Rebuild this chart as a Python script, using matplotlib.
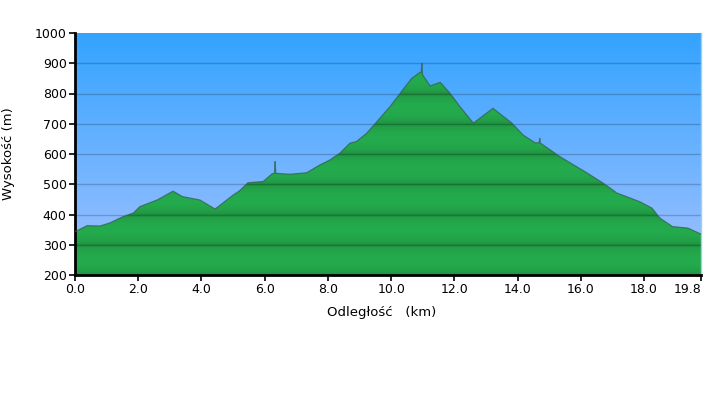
import numpy as np
import matplotlib
matplotlib.use("Agg")
import matplotlib.pyplot as plt


##############################################################################
# Data

DIST_KM = [0.0, 0.38, 0.79, 1.1, 1.52, 1.85, 2.05, 2.6, 3.1, 3.4, 3.95, 4.43,
           5.0, 5.2, 5.47, 5.95, 6.23, 6.31, 6.33, 6.35, 6.8, 7.33, 7.75,
           8.06, 8.38, 8.7, 8.9, 9.23, 9.55, 9.96, 10.37, 10.65, 10.9, 10.95,
           10.97, 10.99, 11.0, 11.23, 11.55, 11.86, 12.18, 12.6, 13.22, 13.82,
           14.17, 14.55, 14.68, 14.7, 14.72, 15.34, 16.2, 16.7, 17.14, 17.87,
           18.25, 18.5, 18.9, 19.39, 19.8]
ELEV_M = [343, 363, 362, 372, 393, 405, 426, 448, 477, 459, 448, 418,
          464, 478, 505, 509, 534, 537, 575, 536, 533, 538, 564,
          580, 603, 636, 641, 669, 707, 756, 812, 850, 869, 870,
          900, 866, 861, 825, 837, 801, 756, 702, 751, 702,
          663, 637, 637, 652, 636, 591, 537, 504, 471, 442,
          421, 388, 360, 355, 335]

X_TICKS = [0, 2, 4, 6, 8, 10, 12, 14, 16, 18, 19.8]
X_LABELS = ["0.0", "2.0", "4.0", "6.0", "8.0", "10.0", "12.0", "14.0",
            "16.0", "18.0", "19.8"]
Y_TICKS = [200, 300, 400, 500, 600, 700, 800, 900, 1000]

Y_MIN, Y_MAX = 200, 1000
X_MAX = 19.8


##############################################################################
# Figure

fig = plt.figure(figsize=(7.09, 4.0), dpi=100)
ax = fig.add_axes([75 / 709, 125 / 400, 626 / 709, 242 / 400])

# sky gradient
n = 400
lev = np.linspace(Y_MIN, Y_MAX, n)
f = (lev - Y_MIN) / (Y_MAX - Y_MIN)
top = np.array([0.20, 0.64, 1.00])
bot = np.array([0.64, 0.76, 1.00])
sky = bot[None, :] * (1 - f[:, None]) + top[None, :] * f[:, None]
sky = np.repeat(sky[:, None, :], 2, axis=1)
ax.imshow(sky, extent=[0, X_MAX, Y_MIN, Y_MAX], origin="lower",
          aspect="auto", zorder=0)

# green banded fill (softer bands)
t = ((lev - Y_MIN) % 100) / 100.0
shade = np.sin(np.pi * t) ** 0.4
dark = np.array([0.12, 0.53, 0.24])
light = np.array([0.14, 0.67, 0.30])
green = dark[None, :] * (1 - shade[:, None]) + light[None, :] * shade[:, None]
green = np.repeat(green[:, None, :], 2, axis=1)
poly = ax.fill_between(DIST_KM, ELEV_M, Y_MIN, color="none", lw=0)
img = ax.imshow(green, extent=[0, X_MAX, Y_MIN, Y_MAX], origin="lower",
                aspect="auto", zorder=1)
img.set_clip_path(poly.get_paths()[0], transform=ax.transData)

# grid lines over both
for yv in Y_TICKS[1:-1]:
    ax.axhline(yv, color="black", alpha=0.2, lw=1, zorder=2)

ax.plot(DIST_KM, ELEV_M, color="#36604f", lw=0.9, alpha=0.75, zorder=3)

ax.set_xlim(0, X_MAX)
ax.set_ylim(Y_MIN, Y_MAX)
ax.set_xticks(X_TICKS)
ax.set_xticklabels(X_LABELS)
ax.get_xticklabels()[-1].set_horizontalalignment("right")
ax.set_yticks(Y_TICKS)
ax.tick_params(direction="out", length=4, width=1.2, labelsize=9,
               color="black", pad=2)

ax.spines["top"].set_visible(False)
ax.spines["right"].set_color("#9fd0e8")
ax.spines["right"].set_linewidth(1)
ax.spines["left"].set_linewidth(2)
ax.spines["bottom"].set_linewidth(2)

ax.set_xlabel("Odległość   (km)", fontsize=9.5, va="center")
ax.set_ylabel("Wysokość (m)", fontsize=9.5, va="center")
ax.xaxis.set_label_coords(0.49, -0.157)
ax.yaxis.set_label_coords(-0.107, 0.5)

fig.savefig("out.png", dpi=100)
